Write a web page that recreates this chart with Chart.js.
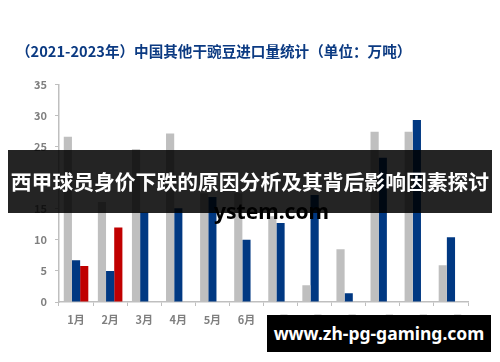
<!DOCTYPE html>
<html>
<head>
<meta charset="utf-8">
<script src="https://cdn.jsdelivr.net/npm/chart.js@4.4.0/dist/chart.umd.min.js"></script>
<style>
  html, body { margin: 0; padding: 0; background: #fff; }
  #wrap { position: relative; width: 500px; height: 362px; overflow: hidden; }
  #myChart { position: absolute; left: 0; top: 0; }
  #title { position: absolute; left: 16px; top: 42px; font: bold 14.6px "Noto Sans CJK SC"; line-height: 18px; color: #0b3a82; white-space: nowrap; }
  #mark { position: absolute; left: 214px; top: 198px; font: bold 21px "Noto Sans"; line-height: 26px; color: #000; }
  #banner { position: absolute; left: 8px; top: 150px; width: 484px; height: 63px; background: rgba(0, 0, 0, 0.86); color: #fff; font: bold 20.8px "Noto Sans CJK SC"; line-height: 63px; text-align: center; white-space: nowrap; }
  #site { position: absolute; left: 267px; top: 315px; width: 224px; height: 37px; background: #000; color: #fff; font: bold 17.5px "Noto Sans"; line-height: 37px; text-align: center; }
</style>
</head>
<body>
<div id="wrap">
  <canvas id="myChart" width="500" height="362"></canvas>
  <div id="title">（2021-2023年）中国其他干豌豆进口量统计（单位：万吨）</div>
  <div id="mark">ystem.com</div>
  <div id="banner">西甲球员身价下跌的原因分析及其背后影响因素探讨</div>
  <div id="site">www.zh-pg-gaming.com</div>
</div>
<script>
const months = ["1月", "2月", "3月", "4月", "5月", "6月", "7月", "8月", "9月", "10月", "11月", "12月"];
const seriesNames = ["2021年", "2022年", "2023年"];
const y2021 = [26.6, 16.1, 24.6, 27.1, 17.5, 17.5, 13.8, 2.7, 8.5, 27.4, 27.4, 5.9];
const y2022 = [6.7, 5.0, 14.4, 15.1, 16.9, 10.0, 12.7, 17.2, 1.4, 23.2, 29.3, 10.4];
const y2023 = [5.8, 12.0, null, null, null, null, null, null, null, null, null, null];
const yTicks = [0, 5, 10, 15, 20, 25, 30, 35];

const tickFont = { family: "Noto Sans CJK SC", size: 11, weight: "bold" };

// legend sits above the plot without taking layout room
const legendPlace = {
  id: "legendPlace",
  beforeLayout(chart) {
    const lg = chart.legend;
    if (lg && !lg._patched) {
      const fit = lg.fit;
      lg.fit = function () {
        fit.call(this);
        this.height = 0;
      };
      lg._patched = true;
    }
  },
  afterLayout(chart) {
    const lg = chart.legend;
    lg.left += 23.5;
    lg.right += 23.5;
    lg.top = 56.5;
    lg.bottom = 56.5;
  },
};

initChart();

function initChart() {
  const ctx = document.getElementById("myChart").getContext("2d");
  window.chart = new Chart(ctx, {
    type: "bar",
    data: {
      labels: months,
      datasets: [
        { label: seriesNames[0], data: y2021, backgroundColor: "#bfbfbf" },
        { label: seriesNames[1], data: y2022, backgroundColor: "#003882" },
        { label: seriesNames[2], data: y2023, backgroundColor: "#c00000" },
      ],
    },
    options: {
      responsive: false,
      animation: false,
      layout: { padding: { top: 84.5, left: 0, right: 32, bottom: 0 } },
      datasets: {
        bar: { categoryPercentage: 0.72, barPercentage: 1 },
      },
      plugins: {
        title: { display: false },
        tooltip: { enabled: false },
        legend: {
          display: true,
          position: "top",
          align: "center",
          labels: {
            boxWidth: 6,
            boxHeight: 6,
            padding: 18.5,
            color: "#7f7f7f",
            font: { family: "Noto Sans CJK SC", size: 12, weight: "bold" },
          },
        },
      },
      scales: {
        x: {
          grid: { display: true, drawOnChartArea: false, drawTicks: true, tickLength: 4, color: "#bfbfbf", offset: true },
          border: { display: true, color: "#bfbfbf", width: 1.5 },
          ticks: { color: "#7f7f7f", font: tickFont, padding: 7, maxRotation: 0, autoSkip: false },
          afterFit(scale) { scale.height = 60; },
        },
        y: {
          min: 0,
          max: 35,
          afterBuildTicks(scale) { scale.ticks = yTicks.map(v => ({ value: v })); },
          grid: { display: true, drawOnChartArea: false, drawTicks: true, tickLength: 4, color: "#bfbfbf" },
          border: { display: true, color: "#bfbfbf", width: 1.5 },
          ticks: { color: "#7f7f7f", font: tickFont, padding: 8 },
          afterFit(scale) { scale.width = 59; },
        },
      },
    },
    plugins: [legendPlace],
  });
}
</script>
</body>
</html>
